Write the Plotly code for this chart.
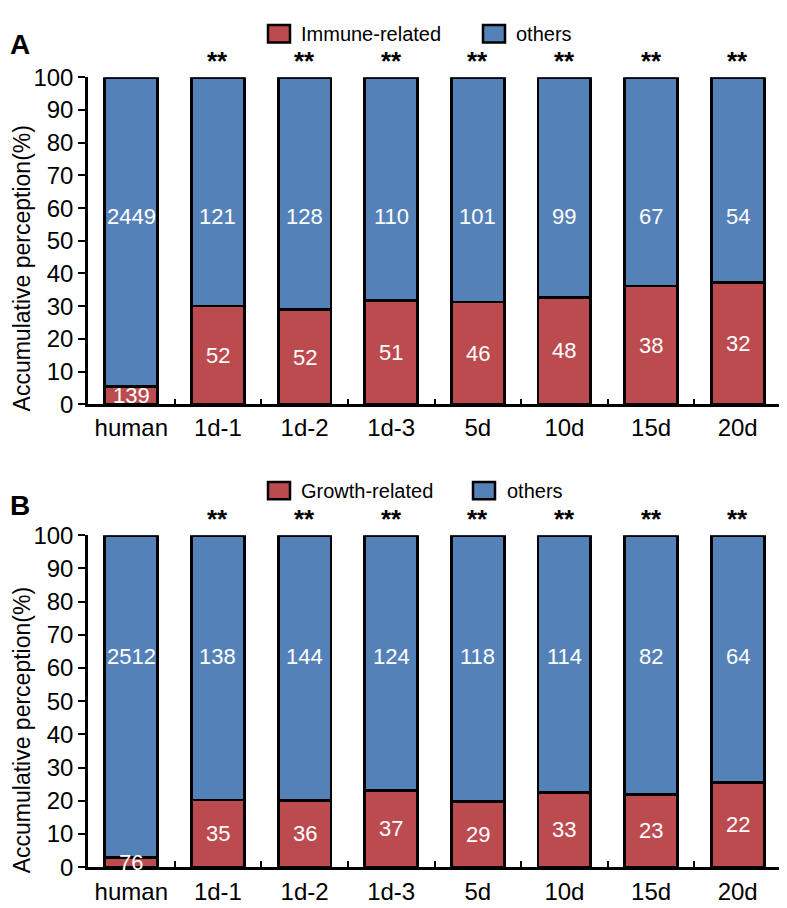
import plotly.graph_objects as go

# ---------------- data ----------------
categories = ["human", "1d-1", "1d-2", "1d-3", "5d", "10d", "15d", "20d"]
immune_related = [139, 52, 52, 51, 46, 48, 38, 32]
immune_others = [2449, 121, 128, 110, 101, 99, 67, 54]
growth_related = [76, 35, 36, 37, 29, 33, 23, 22]
growth_others = [2512, 138, 144, 124, 118, 114, 82, 64]
significance = ["", "**", "**", "**", "**", "**", "**", "**"]
y_ticks = list(range(0, 101, 10))
y_title = "Accumulative perception(%)"

RED = "#BC4B4F"
BLUE = "#5581B9"
FONT = "Arial, Liberation Sans, sans-serif"
W, H = 787, 908


def px_x(x):
    return x / W


def px_y(y):
    return 1 - y / H


def pct(part, other):
    return [p / (p + o) * 100 for p, o in zip(part, other)]


fig = go.Figure()
annotations = []
shapes = []

panels = [
    dict(xa="x", ya="y", rel=immune_related, oth=immune_others, name="Immune-related",
         letter="A", other_label_y=57.5, legend_y=12, letter_y=23,
         leg_blue=473, leg_oth_txt=506, title_y=254),
    dict(xa="x2", ya="y2", rel=growth_related, oth=growth_others, name="Growth-related",
         letter="B", other_label_y=63.5, legend_y=483, letter_y=498,
         leg_blue=463, leg_oth_txt=497, title_y=730),
]

for p in panels:
    rel_pct = pct(p["rel"], p["oth"])
    oth_pct = [100 - v for v in rel_pct]
    fig.add_trace(go.Bar(
        x=categories, y=rel_pct, xaxis=p["xa"], yaxis=p["ya"],
        marker=dict(color=RED, line=dict(color="black", width=2.8)),
        width=0.61, cliponaxis=False, showlegend=False, name=p["name"],
    ))
    fig.add_trace(go.Bar(
        x=categories, y=oth_pct, xaxis=p["xa"], yaxis=p["ya"],
        marker=dict(color=BLUE, line=dict(color="black", width=2.8)),
        width=0.61, cliponaxis=False, showlegend=False, name="others",
    ))
    # value labels
    for c, r, o, rp, s in zip(categories, p["rel"], p["oth"], rel_pct, significance):
        annotations.append(dict(x=c, y=rp / 2, xref=p["xa"], yref=p["ya"], text=str(r),
                                showarrow=False, font=dict(color="white", size=22, family=FONT)))
        annotations.append(dict(x=c, y=p["other_label_y"], xref=p["xa"], yref=p["ya"], text=str(o),
                                showarrow=False, font=dict(color="white", size=22, family=FONT)))
        if s:
            annotations.append(dict(x=c, y=100, xref=p["xa"], yref=p["ya"], text="<b>" + s + "</b>",
                                    showarrow=False, yanchor="bottom", yshift=-1,
                                    font=dict(color="black", size=26, family=FONT)))
    # panel letter
    annotations.append(dict(x=px_x(0), y=px_y(p["letter_y"]), xref="paper", yref="paper",
                            text="<b>" + p["letter"] + "</b>", showarrow=False,
                            xanchor="left", yanchor="middle",
                            font=dict(color="black", size=28, family=FONT)))
    # y axis title
    annotations.append(dict(x=px_x(14), y=px_y(p["title_y"]), xref="paper", yref="paper",
                            text=y_title, showarrow=False, textangle=-90,
                            xanchor="center", yanchor="middle",
                            font=dict(color="black", size=23, family=FONT)))
    # legend
    ly = p["legend_y"]
    shapes.append(dict(type="rect", xref="paper", yref="paper",
                       x0=px_x(260), x1=px_x(282), y0=px_y(ly - 9), y1=px_y(ly + 9),
                       fillcolor=RED, line=dict(color="black", width=2.5)))
    shapes.append(dict(type="rect", xref="paper", yref="paper",
                       x0=px_x(p["leg_blue"] + 2), x1=px_x(p["leg_blue"] + 24),
                       y0=px_y(ly - 9), y1=px_y(ly + 9),
                       fillcolor=BLUE, line=dict(color="black", width=2.5)))
    annotations.append(dict(x=px_x(291), y=px_y(ly), xref="paper", yref="paper",
                            text=p["name"], showarrow=False, xanchor="left", yanchor="middle",
                            font=dict(color="black", size=20, family=FONT)))
    annotations.append(dict(x=px_x(p["leg_oth_txt"]), y=px_y(ly), xref="paper", yref="paper",
                            text="others", showarrow=False, xanchor="left", yanchor="middle",
                            font=dict(color="black", size=20, family=FONT)))

xaxis_common = dict(
    type="category", showline=True, linecolor="black", linewidth=2.5,
    ticks="inside", tickson="boundaries", ticklen=6, tickwidth=2, tickcolor="black",
    tickfont=dict(size=24, color="black", family=FONT), showgrid=False, zeroline=False,
    domain=[px_x(80), px_x(773)], fixedrange=True,
)
yaxis_common = dict(
    range=[0, 100], tickvals=y_ticks, showline=True, linecolor="black", linewidth=2.5,
    ticks="outside", ticklen=7, tickwidth=2, tickcolor="black",
    tickfont=dict(size=24, color="black", family=FONT), showgrid=False, zeroline=False,
    fixedrange=True,
)

fig.update_layout(
    width=W, height=H, barmode="stack",
    paper_bgcolor="white", plot_bgcolor="white",
    margin=dict(l=0, r=0, t=0, b=0),
    xaxis=dict(xaxis_common, anchor="y", ticklabelstandoff=0),
    yaxis=dict(yaxis_common, anchor="x", domain=[px_y(394), px_y(57)]),
    xaxis2=dict(xaxis_common, anchor="y2", ticklabelstandoff=1),
    yaxis2=dict(yaxis_common, anchor="x2", domain=[px_y(871), px_y(529)]),
    annotations=annotations, shapes=shapes, showlegend=False,
)

fig.write_html("out.html")
